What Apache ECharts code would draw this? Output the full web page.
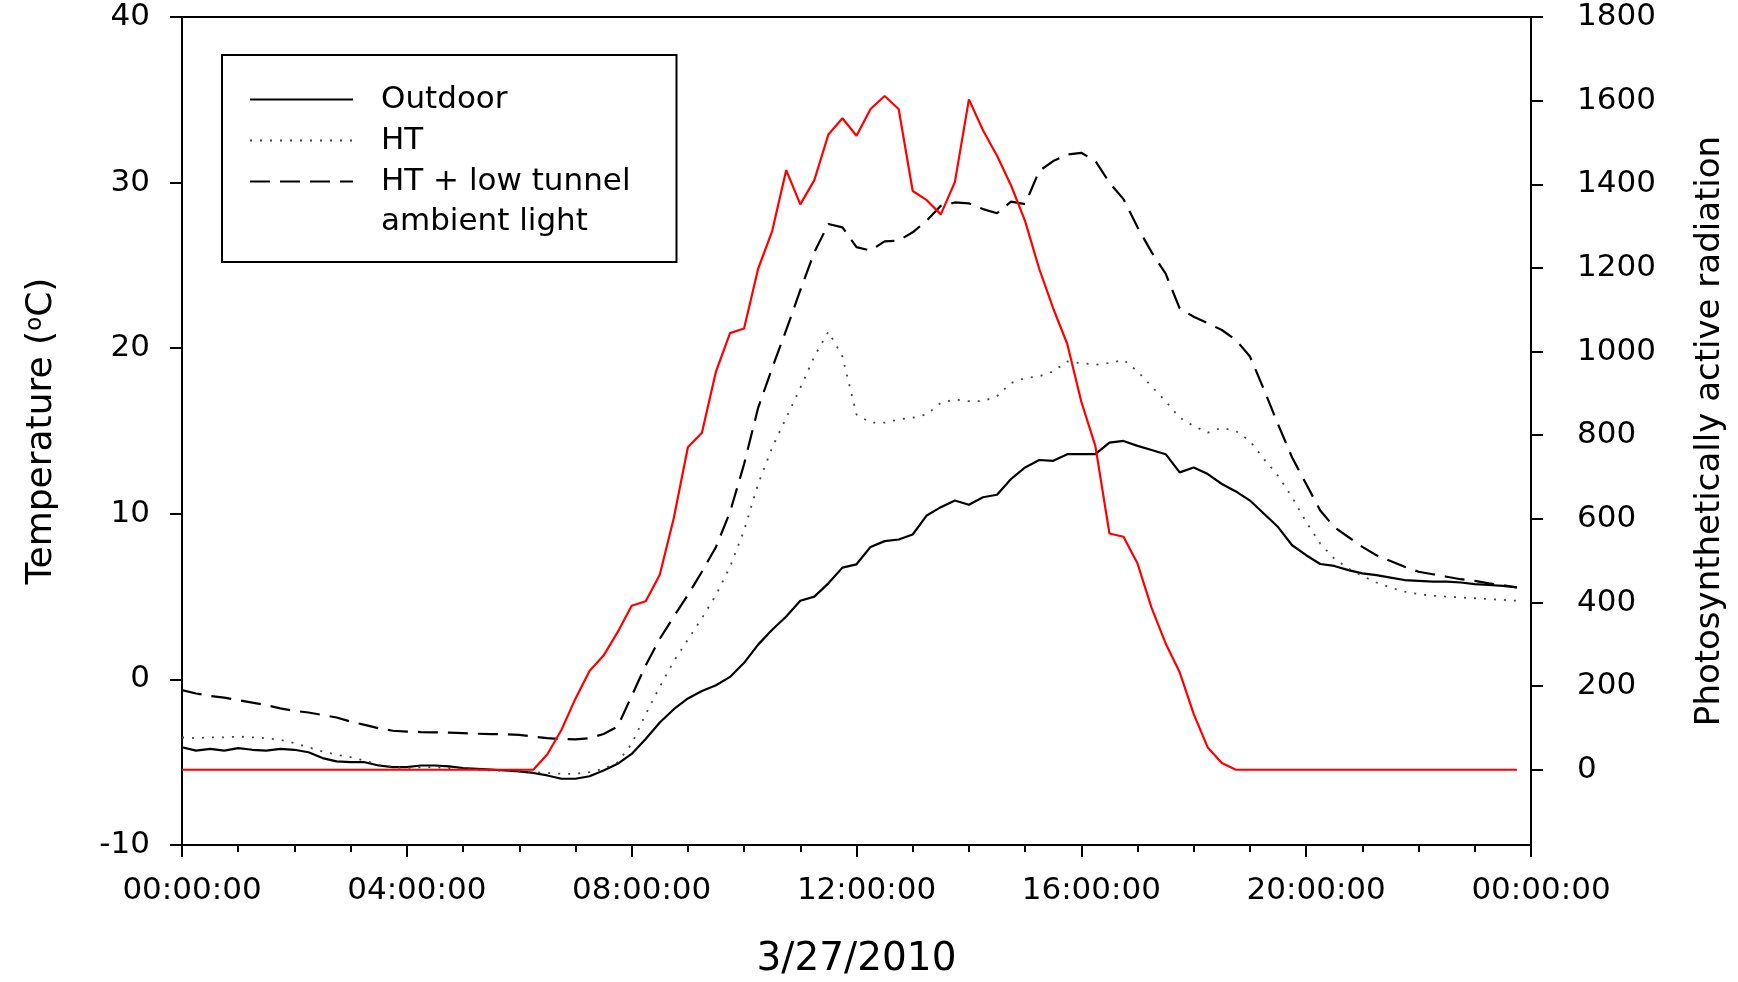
<!DOCTYPE html>
<html>
<head>
<meta charset="utf-8">
<title>Temperature and PAR - 3/27/2010</title>
<script src="https://cdn.jsdelivr.net/npm/echarts@6/dist/echarts.min.js"></script>
<style>
  html, body { margin: 0; padding: 0; background: #fff; }
  #chart { width: 1738px; height: 982px; }
</style>
</head>
<body>
<div id="chart"></div>
<script>
// readings every 15 minutes, 00:00 .. 23:45
var STEP_HOURS = 0.25;

// air temperature outside (degC)
var outdoor = [
  -4.1, -4.3, -4.2, -4.3, -4.15, -4.25, -4.3, -4.2, -4.25, -4.4,
  -4.75, -4.95, -5.0, -5.0, -5.2, -5.3, -5.3, -5.2, -5.2, -5.25,
  -5.35, -5.4, -5.45, -5.5, -5.55, -5.65, -5.8, -6.0, -6.0, -5.85,
  -5.5, -5.1, -4.5, -3.6, -2.6, -1.8, -1.15, -0.7, -0.35, 0.15,
  1.0, 2.1, 3.0, 3.8, 4.75, 5.0, 5.8, 6.75, 6.95, 8.0,
  8.35, 8.45, 8.75, 9.9, 10.4, 10.8, 10.55, 11.0, 11.15, 12.1,
  12.8, 13.25, 13.2, 13.6, 13.6, 13.6, 14.3, 14.4, 14.1, 13.85,
  13.6, 12.5, 12.8, 12.4, 11.8, 11.35, 10.8, 10.0, 9.2, 8.1,
  7.5, 6.97, 6.85, 6.6, 6.4, 6.3, 6.15, 6.0, 5.95, 5.9,
  5.9, 5.85, 5.75, 5.7, 5.65, 5.56
];

// high tunnel (degC)
var ht = [
  -3.5, -3.55, -3.5, -3.5, -3.45, -3.5, -3.55, -3.65, -3.85, -4.1,
  -4.35, -4.55, -4.7, -4.9, -5.15, -5.3, -5.35, -5.3, -5.3, -5.35,
  -5.4, -5.45, -5.5, -5.5, -5.55, -5.6, -5.65, -5.7, -5.7, -5.6,
  -5.4, -5.0, -3.9, -2.1, -0.45, 1.1, 2.4, 3.7, 5.1, 6.8,
  9.0, 11.8, 14.0, 15.8, 17.6, 19.5, 21.0, 19.5, 16.0, 15.5,
  15.5, 15.7, 15.8, 16.0, 16.7, 16.9, 16.8, 16.8, 17.1, 17.9,
  18.2, 18.3, 18.6, 19.2, 19.1, 19.0, 19.1, 19.3, 18.6, 17.7,
  16.8, 15.8, 15.3, 14.9, 15.2, 15.0, 14.4, 13.3, 12.3, 11.0,
  9.5, 8.2, 7.3, 6.7, 6.25, 5.85, 5.55, 5.3, 5.15, 5.05,
  5.0, 4.95, 4.9, 4.85, 4.8, 4.75
];

// high tunnel + low tunnel, ambient light (degC)
var htLowTunnel = [
  -0.65, -0.85, -1.0, -1.1, -1.25, -1.4, -1.55, -1.75, -1.9, -2.0,
  -2.15, -2.3, -2.55, -2.75, -2.95, -3.1, -3.15, -3.18, -3.2, -3.22,
  -3.25, -3.28, -3.3, -3.32, -3.35, -3.45, -3.55, -3.6, -3.62, -3.55,
  -3.3, -2.85, -1.0, 0.85, 2.45, 3.8, 5.1, 6.5, 8.0, 10.1,
  13.0, 16.4, 18.8, 21.1, 23.5, 25.8, 27.5, 27.3, 26.1, 25.9,
  26.45, 26.5, 27.0, 27.7, 28.6, 28.8, 28.75, 28.4, 28.15, 28.85,
  28.7, 30.7, 31.3, 31.7, 31.8, 31.3, 30.0, 29.0, 27.3, 25.8,
  24.5, 22.4, 21.9, 21.5, 21.1, 20.5, 19.5, 17.5, 15.4, 13.4,
  11.8, 10.2, 9.2, 8.6, 8.0, 7.5, 7.15, 6.8, 6.5, 6.35,
  6.2, 6.05, 5.95, 5.8, 5.7, 5.55
];

// photosynthetically active radiation (right axis)
var par = [
  0, 0, 0, 0, 0, 0, 0, 0, 0, 0,
  0, 0, 0, 0, 0, 0, 0, 0, 0, 0,
  0, 0, 0, 0, 0, 0, 37, 95, 170, 236,
  273, 329, 392, 403, 466, 602, 771, 806, 952, 1044,
  1055, 1198, 1288, 1434, 1352, 1410, 1519, 1558, 1516, 1580,
  1611, 1580, 1384, 1362, 1328, 1405, 1603, 1529, 1468, 1397,
  1312, 1198, 1103, 1018, 880, 774, 565, 557, 493, 387,
  302, 233, 133, 53, 16, 0, 0, 0, 0, 0,
  0, 0, 0, 0, 0, 0, 0, 0, 0, 0,
  0, 0, 0, 0, 0, 0
];

var parTicks = [0, 200, 400, 600, 800, 1000, 1200, 1400, 1600, 1800];

var LOW_TUNNEL_NAME = 'HT + low tunnel\nambient light';

var FONT = 'DejaVu Sans';
var AXIS_LINE = { show: true, onZero: false, lineStyle: { color: '#000', width: 2 } };
var TICK_STYLE = { color: '#000', width: 2 };

function toPairs(values){
  return values.map(function(v, i){ return [i * STEP_HOURS, v]; });
}

function hourLabel(value){
  var h = value % 24;
  return (h < 10 ? '0' : '') + h + ':00:00';
}

var chart = echarts.init(document.getElementById('chart'));

var option = {
  animation: false,
  backgroundColor: '#fff',
  textStyle: { fontFamily: FONT, color: '#000' },
  grid: {
    left: 182, right: 207, top: 17, bottom: 137,
    show: true, borderColor: '#000', borderWidth: 2,
    outerBoundsMode: 'none'
  },
  legend: {
    orient: 'vertical',
    left: 222,
    top: 55,
    padding: [24, 46, 60, 27],
    itemGap: 0,
    itemWidth: 103,
    itemHeight: 41,
    borderColor: '#000',
    borderWidth: 2,
    borderRadius: 0,
    itemStyle: { opacity: 0 },
    textStyle: { fontFamily: FONT, fontSize: 31, color: '#000', lineHeight: 41, padding: [0, 0, 0, 23] },
    // second line of the last entry is written below as a graphic text
    formatter: function(name){ return name.split('\n')[0]; },
    data: ['Outdoor', 'HT', LOW_TUNNEL_NAME]
  },
  graphic: [{
    type: 'text',
    left: 381,
    top: 206,
    style: { text: 'ambient light', font: '31px "DejaVu Sans"', fill: '#000' }
  }],
  xAxis: {
    type: 'value',
    min: 0, max: 24, interval: 4,
    axisLine: AXIS_LINE,
    axisTick: { show: true, length: 12, lineStyle: TICK_STYLE },
    minorTick: { show: true, splitNumber: 4, length: 7, lineStyle: TICK_STYLE },
    splitLine: { show: false },
    minorSplitLine: { show: false },
    axisLabel: {
      formatter: hourLabel, fontFamily: FONT, fontSize: 31, color: '#000',
      margin: 30, padding: [0, 0, 0, 20]
    },
    name: '3/27/2010',
    nameLocation: 'middle',
    nameGap: 95,
    nameTextStyle: { fontFamily: FONT, fontSize: 39, color: '#000' }
  },
  yAxis: [
    {
      type: 'value',
      position: 'left',
      min: -10, max: 40, interval: 10,
      axisLine: AXIS_LINE,
      axisTick: { show: true, length: 12, lineStyle: TICK_STYLE },
      splitLine: { show: false },
      axisLabel: { fontFamily: FONT, fontSize: 31, color: '#000', margin: 32 },
      name: 'Temperature ({sup|o}C)',
      nameLocation: 'middle',
      nameRotate: 90,
      nameGap: 122,
      nameTextStyle: {
        fontFamily: FONT, fontSize: 36, color: '#000',
        rich: { sup: { fontFamily: FONT, fontSize: 23, color: '#000', verticalAlign: 'top' } }
      }
    },
    {
      type: 'value',
      position: 'right',
      min: -180, max: 1800,
      axisLine: AXIS_LINE,
      axisTick: { show: true, length: 12, lineStyle: TICK_STYLE, customValues: parTicks },
      splitLine: { show: false },
      axisLabel: {
        fontFamily: FONT, fontSize: 31, color: '#000', margin: 46, customValues: parTicks,
        formatter: function(v){ return String(v); }
      },
      name: 'Photosynthetically active radiation',
      nameLocation: 'middle',
      nameRotate: 90,
      nameGap: 162,
      nameTextStyle: { fontFamily: FONT, fontSize: 34, color: '#000' }
    }
  ],
  series: [
    {
      name: 'Outdoor', type: 'line', yAxisIndex: 0,
      data: toPairs(outdoor), symbol: 'none',
      lineStyle: { color: '#000', width: 2.2 }, itemStyle: { color: '#000' }
    },
    {
      name: 'HT', type: 'line', yAxisIndex: 0,
      data: toPairs(ht), symbol: 'none',
      lineStyle: { color: '#444', width: 1.8, type: [2, 8] }, itemStyle: { color: '#444' }
    },
    {
      name: LOW_TUNNEL_NAME, type: 'line', yAxisIndex: 0,
      data: toPairs(htLowTunnel), symbol: 'none',
      lineStyle: { color: '#000', width: 2.2, type: [20, 10] }, itemStyle: { color: '#000' }
    },
    {
      name: 'PAR', type: 'line', yAxisIndex: 1,
      data: toPairs(par), symbol: 'none',
      lineStyle: { color: '#ff0000', width: 2.2 }, itemStyle: { color: '#ff0000' }
    }
  ]
};

chart.setOption(option);
</script>
</body>
</html>
